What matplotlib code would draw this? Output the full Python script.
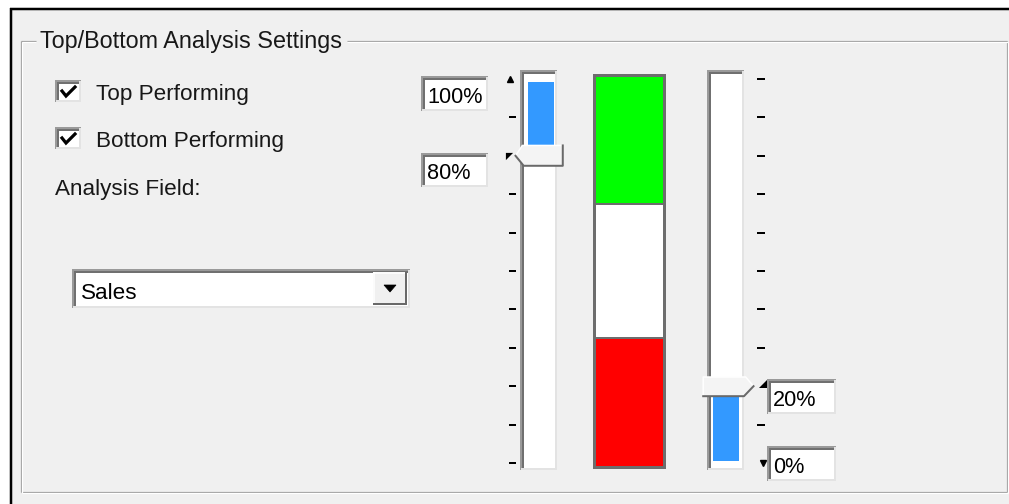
import matplotlib
matplotlib.use("Agg")
import matplotlib.pyplot as plt
from matplotlib.patches import Rectangle, Polygon
import numpy as np

# ---------------- data ----------------
group_title = "Top/Bottom Analysis Settings"
checkbox_labels = ["Top Performing", "Bottom Performing"]
checkbox_checked = [True, True]
field_label = "Analysis Field:"
field_value = "Sales"
top_range = [80, 100]        # percent (selection of top slider)
bottom_range = [0, 20]       # percent (selection of bottom slider)
band_names = ["Bottom", "Middle", "Top"]
band_sizes = [33, 34, 33]
band_colors = ["#ff0000", "#ffffff", "#00ff00"]
slider_ticks = list(range(0, 101, 10))

# ---------------- figure ----------------
W, H, DPI = 1009, 504, 100
PT = 72.0 / DPI  # points per pixel
FONT = ["Liberation Sans", "DejaVu Sans"]
FS = 16.2
BG = "#f0f0f0"
DARK = "#696969"
MID = "#a0a0a0"
LIGHT = "#e3e3e3"

fig = plt.figure(figsize=(W / DPI, H / DPI), dpi=DPI)
fig.patch.set_facecolor("white")
bg = fig.add_axes([0, 0, 1, 1])
bg.set_xlim(0, W)
bg.set_ylim(H, 0)
bg.axis("off")


def px_axes(x0, y0, x1, y1, z=2):
    ax = fig.add_axes([x0 / W, 1 - y1 / H, (x1 - x0) / W, (y1 - y0) / H])
    ax.set_zorder(z)
    return ax


def line(xs, ys, c, w, z=3):
    bg.plot(xs, ys, color=c, lw=w * PT, solid_capstyle="butt", zorder=z)


def sunken(x0, y0, x1, y1, fill="white"):
    bg.add_patch(Rectangle((x0, y0), x1 - x0, y1 - y0, fc=fill, ec="none", zorder=2))
    line([x0 + 1, x0 + 1], [y0, y1], "#9a9a9a", 2)
    line([x0, x1], [y0 + 1, y0 + 1], "#9a9a9a", 2)
    line([x0 + 3, x0 + 3], [y0 + 2, y1 - 1], "#707070", 2)
    line([x0 + 2, x1 - 1], [y0 + 3, y0 + 3], "#707070", 2)
    line([x1 - 1, x1 - 1], [y0 + 1, y1], LIGHT, 2)
    line([x0 + 1, x1], [y1 - 1, y1 - 1], LIGHT, 2)


# background and black frame
bg.add_patch(Rectangle((10, 8), W - 10, H - 8, fc=BG, ec="none", zorder=0))
line([10, W], [9, 9], "black", 2.5)
line([11, 11], [8, H], "black", 2.5)

# group box (etched)
gx0, gy0, gx1, gy1 = 21, 41, 1007, 492
for off, c in ((0, MID), (1, "white")):
    line([gx0 + off, gx0 + off], [gy0 + off, gy1 + off], c, 1.2)
    line([gx1 + off, gx1 + off], [gy0 + off, gy1 + off], c, 1.2)
    line([gx0 + off, gx1 + off], [gy1 + off, gy1 + off], c, 1.2)
    line([gx0 + off, 36], [gy0 + off, gy0 + off], c, 1.2)
    line([347, gx1 + off], [gy0 + off, gy0 + off], c, 1.2)
bg.text(40, 48, group_title, family=FONT, fontsize=16.8, va="baseline", ha="left",
        color="#181818", zorder=4)

# check boxes
for i, (lab, chk) in enumerate(zip(checkbox_labels, checkbox_checked)):
    y0 = 80 + i * 47
    sunken(55, y0, 81, y0 + 22)
    if chk:
        bg.plot([62, 66, 75], [y0 + 11, y0 + 16, y0 + 7], color="black",
                lw=3.2 * PT, zorder=4, solid_joinstyle="miter")
    bg.text(96, y0 + 20, lab, family=FONT, fontsize=FS, va="baseline", ha="left",
            color="#181818", zorder=4)

bg.text(55, 195, field_label, family=FONT, fontsize=FS, va="baseline", ha="left",
        color="#181818", zorder=4)

# combo box
sunken(72, 269, 410, 308)
bg.text(81, 299, field_value, family=FONT, fontsize=FS, va="baseline", ha="left",
        color="black", zorder=4)
bx0, by0, bx1, by1 = 373, 272, 407, 305
bg.add_patch(Rectangle((bx0, by0), bx1 - bx0, by1 - by0, fc=BG, ec="none", zorder=3))
line([bx0, bx1], [by0 + 0.5, by0 + 0.5], "white", 1.5, 4)
line([bx0 + 0.5, bx0 + 0.5], [by0, by1], "white", 1.5, 4)
line([bx1 - 1, bx1 - 1], [by0, by1], DARK, 2, 4)
line([bx0, bx1], [by1 - 1, by1 - 1], DARK, 2, 4)
bg.add_patch(Polygon([(384, 285), (396, 285), (390, 292)], closed=True, fc="black",
                     ec="black", lw=0.5, zorder=5))

# value boxes
def value_box(x0, y0, x1, y1, val):
    sunken(x0, y0, x1, y1)
    bg.text(x0 + 6, y1 - 8, f"{val}%", family=FONT, fontsize=FS - 0.6, va="baseline",
            ha="left", color="black", zorder=4)

value_box(421, 76, 488, 111, top_range[1])
value_box(421, 153, 488, 187, top_range[0])
value_box(767, 379, 836, 414, bottom_range[1])
value_box(767, 446, 836, 481, bottom_range[0])

# ---------------- sliders ----------------
PXU = 3.84  # pixels per percent
LO, HI = -7 / PXU, 100 + 9 / PXU


def make_slider(x0, x1, side):
    y0, y1 = 70, 470
    sunken(x0, y0, x1, y1)
    ax = px_axes(x0 + 3, y0, x1, y1)
    ax.set_xlim(0, 1)
    ax.set_ylim(LO, HI)
    ax.patch.set_alpha(0)
    for s in ax.spines.values():
        s.set_visible(False)
    ax.set_xticks([])
    return ax


def slider_ticks_on(ax, side, skip, outward, length):
    ticks = [t for t in slider_ticks if t not in skip]
    ax.set_yticks(ticks)
    ax.set_yticklabels([])
    ax.spines[side].set_position(("outward", outward * PT))
    if side == "right":
        ax.yaxis.tick_right()
    ax.tick_params(axis="y", direction="out", length=length * PT, width=2 * PT,
                   color="black", left=(side == "left"), right=(side == "right"))


# top slider (left)
axL = make_slider(520, 557, "left")
axL.bar(0.53, top_range[1] - 0.8 - (top_range[0] + 2.6), bottom=top_range[0] + 2.6,
        width=0.74, color="#3399ff", zorder=3)
slider_ticks_on(axL, "left", [top_range[0], top_range[1]], 7, 7)
trL = axL.get_yaxis_transform()
axL.plot([-0.39], [top_range[1]], marker="^", ms=5 * PT * 1.2, color="black",
         transform=trL, clip_on=False, zorder=6)
axL.plot([-0.41], [top_range[0]], marker=[(-1, 1), (1, 1), (-1, -1)], ms=6 * PT * 1.2,
         color="black", mew=0, transform=trL, clip_on=False, zorder=6)
v = top_range[0]
pts = [(-0.22, v), (-0.02, v + 2.7), (1.17, v + 2.7), (1.17, v - 2.6), (0.02, v - 2.6)]
axL.add_patch(Polygon(pts, closed=True, fc="#f4f4f4", ec="none", transform=trL,
                      clip_on=False, zorder=5))
axL.plot([pts[0][0], pts[1][0], pts[2][0]], [pts[0][1], pts[1][1], pts[2][1]],
         color="white", lw=1.5 * PT, transform=trL, clip_on=False, zorder=6)
axL.plot([pts[2][0], pts[3][0], pts[4][0], pts[0][0]], [pts[2][1], pts[3][1], pts[4][1], pts[0][1]],
         color=DARK, lw=2 * PT, transform=trL, clip_on=False, zorder=6)

# bottom slider (right)
axR = make_slider(707, 744, "right")
axR.bar(0.48, bottom_range[1] - 2.6 - (bottom_range[0] + 0.5), bottom=bottom_range[0] + 0.5,
        width=0.76, color="#3399ff", zorder=3)
slider_ticks_on(axR, "right", [bottom_range[0], bottom_range[1]], 13, 8)
trR = axR.get_yaxis_transform()
axR.plot([1.55], [bottom_range[1] + 0.6], marker=[(-1, -1), (1, -1), (1, 1)], ms=6 * PT * 1.2,
         color="black", mew=0, transform=trR, clip_on=False, zorder=6)
axR.plot([1.55], [bottom_range[0]], marker="v", ms=5 * PT * 1.2, color="black",
         transform=trR, clip_on=False, zorder=6)
v = bottom_range[1]
pts = [(-0.2, v + 2.4), (1.05, v + 2.4), (1.28, v), (1.0, v - 2.6), (-0.2, v - 2.6)]
axR.add_patch(Polygon(pts, closed=True, fc="#f4f4f4", ec="none", transform=trR,
                      clip_on=False, zorder=5))
axR.plot([pts[4][0], pts[0][0], pts[1][0], pts[2][0]], [pts[4][1], pts[0][1], pts[1][1], pts[2][1]],
         color="white", lw=1.5 * PT, transform=trR, clip_on=False, zorder=6)
axR.plot([pts[2][0], pts[3][0], pts[4][0]], [pts[2][1], pts[3][1], pts[4][1]],
         color=DARK, lw=2 * PT, transform=trR, clip_on=False, zorder=6)

# ---------------- band bar ----------------
axB = px_axes(594, 75, 664, 467)
bottoms = np.concatenate([[0], np.cumsum(band_sizes)[:-1]])
axB.bar([0] * len(band_sizes), band_sizes, bottom=bottoms, width=1.0, color=band_colors,
        edgecolor="#6d6d6d", linewidth=2 * PT)
axB.set_xlim(-0.5, 0.5)
axB.set_ylim(0, sum(band_sizes))
axB.set_xticks([])
axB.set_yticks([])
for s in axB.spines.values():
    s.set_color("#6d6d6d")
    s.set_linewidth(3 * PT)

fig.savefig("out.png", dpi=DPI, facecolor=fig.get_facecolor())
